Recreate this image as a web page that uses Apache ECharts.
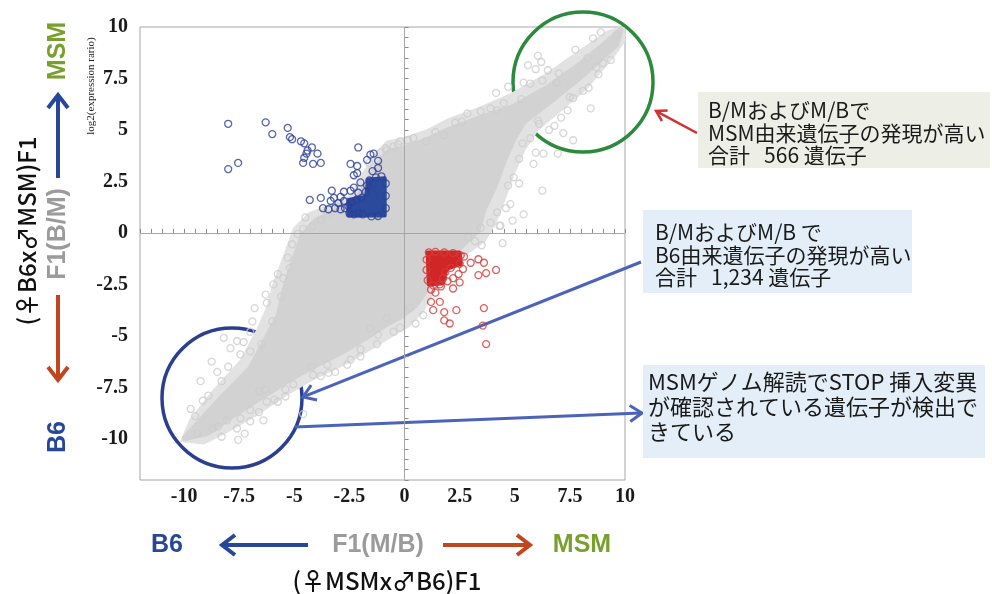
<!DOCTYPE html>
<html>
<head>
<meta charset="utf-8">
<script src="https://cdn.jsdelivr.net/npm/echarts@6/dist/echarts.min.js"></script>
<style>
  html, body { margin: 0; padding: 0; background: #fff; }
  #chart { width: 992px; height: 594px; }
</style>
</head>
<body>
<div id="chart"></div>
<script>
// Axis ticks shown on both axes (log2 expression ratios)
const tickLabels = ['-10', '-7.5', '-5', '-2.5', '0', '2.5', '5', '7.5', '10'];

// Outer, sparser envelope of the grey cloud of all genes (x = M/B, y = B/M)
const grayHalo = [
  [-10.1, -10.1], [-9.7, -9.1], [-8.6, -7.6], [-7.4, -6.2], [-6.7, -4.8], [-6.2, -3.6],
  [-5.9, -2.4], [-5.4, -1.0], [-5.0, 0.2], [-4.3, 0.95], [-3.2, 1.4], [-2.4, 1.8],
  [-1.9, 2.8], [-1.4, 3.7], [-0.8, 4.4], [0, 4.6], [1.0, 4.95], [2.0, 5.5], [3.4, 6.05],
  [4.8, 6.7], [6.3, 7.6], [7.8, 8.7], [9.2, 9.75], [9.9, 10.0], [10.0, 9.4], [9.4, 8.5],
  [8.2, 7.0], [7.0, 5.9], [6.0, 5.0], [5.4, 4.0], [4.9, 2.8], [4.5, 1.6], [4.1, 0.5],
  [3.6, -0.4], [2.8, -1.0], [2.0, -1.6], [1.3, -2.9], [0.8, -3.8], [0.2, -4.5],
  [-0.6, -5.0], [-1.5, -5.6], [-2.8, -6.4], [-4.2, -7.1], [-5.3, -7.8], [-6.7, -8.8],
  [-8.0, -9.6], [-9.1, -10.2]
];

// Dense core of the grey cloud
const grayCore = [
  [-9.95, -9.95], [-9.4, -9.3], [-8.2, -7.9], [-7.0, -6.6], [-6.25, -5.1], [-5.7, -4.0],
  [-5.4, -2.6], [-5.0, -1.3], [-4.6, -0.1], [-4.0, 0.6], [-3.2, 1.0], [-2.4, 1.3],
  [-1.8, 2.2], [-1.2, 3.3], [-0.7, 3.95], [0, 4.1], [1.0, 4.5], [2.0, 5.0], [3.4, 5.55],
  [4.9, 6.1], [6.5, 7.05], [8.0, 8.2], [9.3, 9.35], [9.8, 9.85], [9.6, 9.15], [8.0, 7.6],
  [6.5, 6.3], [5.4, 5.4], [4.95, 4.6], [4.5, 3.5], [4.05, 2.2], [3.6, 1.2], [3.3, 0.1],
  [2.6, -0.6], [2.0, -1.1], [1.4, -1.8], [1.0, -2.7], [0.5, -3.5], [-0.1, -4.0],
  [-0.8, -4.4], [-1.5, -4.9], [-2.9, -5.8], [-4.2, -6.5], [-5.2, -7.1], [-6.7, -8.1],
  [-8.0, -9.0], [-9.0, -9.75]
];

// Scattered grey genes around the edge of the cloud
const grayPoints = [
  [8.9, 9.75], [8.55, 9.45], [7.75, 8.9], [6.05, 8.6], [6.2, 8.3], [5.6, 8.15], [5.95, 7.95],
  [6.5, 7.9], [7.0, 7.75], [5.4, 7.3], [5.7, 7.25], [6.25, 7.4], [9.35, 8.4], [9.0, 8.25],
  [8.7, 8.05], [8.35, 7.05], [8.1, 6.9], [8.45, 6.05], [7.65, 6.55], [7.4, 5.95], [7.1, 5.6],
  [6.8, 5.2], [7.2, 4.85], [7.65, 4.5], [6.55, 5.0], [6.05, 5.45], [5.7, 4.6], [5.35, 4.35],
  [5.95, 3.9], [6.3, 3.85], [6.95, 3.85], [5.85, 3.35], [4.95, 2.7], [5.2, 2.4], [6.25, 2.05],
  [4.8, 1.4], [4.9, 0.6], [5.4, 0.9], [4.6, 1.2], [4.3, 0.35], [4.7, 7.1], [4.15, 6.8],
  [4.5, 6.3], [3.45, 5.9], [2.3, 5.35], [1.8, 4.75], [0.95, 4.45], [0.15, 4.5], [-0.5, 4.2],
  [-0.85, 4.1], [0.4, 4.6], [2.85, 5.8], [3.9, 6.05], [-0.8, 4.0], [-0.3, 4.3],
  [-3.5, 0.9], [-3.8, 0.6], [-4.5, 0.75], [-4.6, 0.2], [-4.85, -0.05], [-5.1, -0.55],
  [-5.3, -1.2], [-5.75, -2.0], [-5.5, -2.2], [-5.95, -2.5], [-6.3, -3.0], [-6.25, -3.4],
  [-6.8, -3.65], [-6.9, -4.3], [-7.0, -4.8], [-7.3, -5.3],
  [-8.75, -6.25], [-9.25, -7.2], [-9.7, -8.55], [-9.15, -8.15], [-8.5, -6.75], [-8.3, -7.2],
  [-8.0, -6.5], [-7.9, -5.6], [-8.2, -5.1], [-7.6, -5.25], [-7.45, -5.9], [-7.0, -5.75],
  [-8.3, -9.9], [-8.45, -9.4], [-8.05, -9.1], [-7.55, -10.05], [-7.25, -9.75], [-7.6, -9.5],
  [-7.45, -9.0], [-7.0, -9.15], [-6.6, -8.7], [-6.4, -9.1], [-7.0, -8.6], [-6.25, -8.2],
  [-5.75, -8.2], [-6.6, -7.7], [-6.3, -7.6], [-5.4, -7.95], [-5.4, -7.6], [-5.05, -7.35],
  [-4.6, -8.8], [-4.15, -6.9], [-3.45, -6.8], [-3.15, -6.75], [-4.2, -6.5], [-2.6, -6.4],
  [-2.45, -6.15], [-1.25, -5.4], [-1.2, -4.95], [-1.55, -4.65], [-0.8, -4.15], [-2.0, -5.65],
  [-3.5, -6.4], [4.35, 0.35], [4.45, -0.5], [3.9, 0.5], [3.45, 0.25], [-0.5, -4.8],
  [-0.2, -4.6], [0.5, -4.4], [0.85, -4.0], [0.25, -3.65], [2.9, -0.2], [3.2, -0.4],
  [-1.6, 3.4], [-1.1, 3.9], [-0.2, 4.45], [1.4, 4.9], [2.6, 5.4], [4.2, 5.95], [5.3, 6.5],
  [6.9, 7.3], [8.3, 8.5], [9.6, 9.6], [8.8, 7.7], [7.5, 6.6], [6.1, 5.3], [5.2, 3.6],
  [4.7, 2.3], [4.2, 1.0], [3.5, -0.6], [-2.0, -6.0], [-3.8, -6.95], [-5.9, -8.1],
  [-8.7, -9.5], [-9.4, -9.75], [-9.5, -8.9], [-8.9, -7.9], [-6.5, -5.4], [-6.0, -4.3],
  [-5.6, -3.1], [-5.2, -1.7], [-4.2, 0.3], [-3.0, 1.25]
];

// Genes with higher MSM-allele expression in B/M and M/B (blue)
const blueCore = [[-2.55, 0.85], [-2.55, 1.6], [-1.75, 1.75], [-1.65, 2.6], [-0.9, 2.65], [-0.9, 0.85]];
const bluePoints = [
  [-8.0, 5.3], [-6.3, 5.37], [-5.3, 5.1], [-6.0, 4.8], [-5.2, 4.65], [-5.1, 4.55], [-4.7, 4.45],
  [-4.55, 4.35], [-4.2, 4.15], [-4.4, 4.0], [-4.45, 3.85], [-4.55, 3.65], [-4.6, 3.4],
  [-3.95, 3.85], [-4.15, 3.35], [-3.8, 3.4], [-8.0, 3.1], [-7.55, 3.4], [-2.1, 4.15],
  [-1.55, 3.8], [-1.4, 3.85], [-1.7, 3.55], [-1.2, 3.5], [-2.45, 3.35], [-2.15, 3.25],
  [-1.2, 3.15], [-2.15, 2.9], [-2.3, 2.8], [-1.45, 3.0], [-2.0, 2.45], [-3.3, 2.05],
  [-2.75, 2.0], [-2.45, 2.05], [-4.3, 1.6], [-3.8, 1.7], [-3.35, 1.55], [-3.2, 1.7],
  [-3.7, 1.2], [-3.45, 1.15], [-3.15, 1.2], [-2.9, 1.15], [-2.7, 1.2], [-3.0, 1.45],
  [-2.75, 1.55], [-2.3, 2.2], [-2.1, 1.95], [-2.9, 1.75],
  [-2.5, 0.95], [-2.3, 0.9], [-2.1, 0.95], [-1.9, 0.9], [-2.55, 1.3], [-2.4, 1.5],
  [-2.2, 1.6], [-1.95, 1.7], [-1.75, 2.0], [-1.7, 2.3], [-1.6, 2.55], [-1.3, 2.7],
  [-1.05, 2.75], [-0.85, 2.4], [-0.85, 1.8], [-0.85, 1.2], [-1.2, 0.82], [-1.5, 0.8]
];

// Genes with higher B6-allele expression in B/M and M/B (red)
const redCore = [[1.05, -0.95], [2.5, -0.95], [2.55, -1.5], [1.9, -1.75], [1.75, -2.45], [1.1, -2.5]];
const redPoints = [
  [2.7, -1.15], [3.0, -1.45], [3.35, -1.28], [3.6, -1.45], [2.65, -1.75], [2.45, -2.0],
  [2.2, -2.2], [2.5, -2.4], [2.2, -2.7], [3.35, -2.05], [3.7, -1.95], [4.15, -1.8],
  [1.2, -2.75], [1.4, -2.9], [1.2, -3.35], [1.6, -3.35], [1.3, -3.75], [1.8, -3.85],
  [2.35, -3.75], [1.8, -4.25], [2.05, -4.4], [3.6, -3.65], [3.55, -4.5], [3.7, -5.4],
  [1.95, -2.35], [1.65, -2.6],
  [1.1, -0.95], [1.4, -0.92], [1.8, -0.95], [2.2, -0.98], [2.55, -1.1], [2.5, -1.5],
  [2.1, -1.7], [1.85, -1.9], [1.75, -2.2], [1.6, -2.5], [1.3, -2.55], [1.05, -2.3],
  [1.0, -1.8], [1.0, -1.3]
];

const chart = echarts.init(document.getElementById('chart'), null, { renderer: 'canvas' });

function polygonSeries(points, color, z, edge) {
  return {
    type: 'custom',
    z: z,
    silent: true,
    clip: true,
    data: [[0, 0]],
    encode: { x: 0, y: 1 },
    renderItem: function (params, api) {
      return {
        type: 'polygon',
        shape: { points: points.map(function (p) { return api.coord(p); }) },
        style: { fill: color, stroke: color, lineWidth: edge, lineJoin: 'round' }
      };
    }
  };
}

function ringSeries(points, color, z) {
  return {
    type: 'scatter',
    z: z,
    silent: true,
    symbol: 'circle',
    symbolSize: 7,
    data: points,
    itemStyle: { color: 'rgba(255,255,255,0)', borderColor: color, borderWidth: 1.3 }
  };
}

// Open-headed arrow drawn as a line plus a chevron
function arrow(x1, y1, x2, y2, color, width, headLen, headHalf) {
  const dx = x2 - x1, dy = y2 - y1;
  const len = Math.sqrt(dx * dx + dy * dy);
  const ux = dx / len, uy = dy / len;
  const nx = -uy, ny = ux;
  const bx = x2 - ux * headLen, by = y2 - uy * headLen;
  return {
    type: 'group',
    children: [
      { type: 'line', shape: { x1: x1, y1: y1, x2: x2 - ux * width * 0.5, y2: y2 - uy * width * 0.5 },
        style: { stroke: color, lineWidth: width, lineCap: 'butt' } },
      { type: 'polyline', shape: { points: [[bx + nx * headHalf, by + ny * headHalf], [x2, y2], [bx - nx * headHalf, by - ny * headHalf]] },
        style: { stroke: color, lineWidth: width, lineJoin: 'miter', fill: 'none' } }
    ]
  };
}

function vText(text, x, y, font, color) {
  return { type: 'text', x: x, y: y, rotation: Math.PI / 2,
    style: { text: text, font: font, fill: color, align: 'center', verticalAlign: 'middle' } };
}

function hText(text, x, y, font, color) {
  return { type: 'text', x: x, y: y,
    style: { text: text, font: font, fill: color, align: 'center', verticalAlign: 'middle' } };
}

function noteBox(x, y, w, h, fill, text, tx, ty, font, lh) {
  return {
    type: 'group',
    children: [
      { type: 'rect', shape: { x: x, y: y, width: w, height: h }, style: { fill: fill } },
      { type: 'text', x: tx, y: ty,
        style: { text: text, font: font, fill: '#1a1a1a', lineHeight: lh, align: 'left', verticalAlign: 'top' } }
    ]
  };
}

const GREEN = '#78a02e', BLUE = '#27479a', GREYTXT = '#9b9b9b', ORANGE = '#c0461e';
const JP = '"Noto Sans CJK JP", "Noto Sans", sans-serif';
const BOLD = 'bold 25px "Liberation Sans", Arial, sans-serif';

function labelFmt(v) {
  const s = String(Math.round(v * 10) / 10);
  return tickLabels.indexOf(s) >= 0 ? s : '';
}

const axisCommon = {
  type: 'value',
  min: -12,
  max: 10,
  interval: 0.5,
  splitLine: { show: false },
  axisLine: { show: false },
  axisTick: { show: true, inside: true, length: 4, lineStyle: { color: '#8a8a8a', width: 1 } },
  axisLabel: {
    formatter: labelFmt,
    fontFamily: '"Liberation Serif", "Times New Roman", serif',
    fontWeight: 'bold',
    fontSize: 20,
    color: '#1a1a1a',
    showMinLabel: true,
    showMaxLabel: true,
    hideOverlap: false
  }
};

chart.setOption({
  animation: false,
  backgroundColor: '#ffffff',
  grid: { left: 140, right: 367, top: 27, bottom: 114, show: true, borderColor: '#a6a6a6', borderWidth: 1 },
  xAxis: Object.assign({}, axisCommon, { axisLabel: Object.assign({}, axisCommon.axisLabel, { margin: 7 }) }),
  yAxis: Object.assign({}, axisCommon, { axisLabel: Object.assign({}, axisCommon.axisLabel, { margin: 12 }) }),
  series: [
    {
      type: 'line', data: [], z: 1, silent: true,
      markLine: {
        silent: true, symbol: 'none', label: { show: false },
        lineStyle: { color: '#a6a6a6', width: 1, type: 'solid' },
        data: [{ xAxis: 0 }, { yAxis: 0 }]
      }
    },
    polygonSeries(grayHalo, '#e2e2e2', 2, 3),
    polygonSeries(grayCore, '#d2d2d2', 2, 6),
    ringSeries(grayPoints, '#cdcdcd', 3),
    polygonSeries(blueCore, '#2b4a9c', 4, 4),
    ringSeries(bluePoints, '#2d3f98', 5),
    polygonSeries(redCore, '#d02626', 4, 4),
    ringSeries(redPoints, '#d63a3a', 5)
  ],
  graphic: [
    // Axis titles
    vText('log2(expression rario)', 91, 86, '11px "Liberation Serif", "Times New Roman", serif', '#222'),
    vText('(♀B6x♂MSM)F1', 27, 231, '500 24px ' + JP, '#111'),
    vText('MSM', 58, 51, BOLD, GREEN),
    arrow(58, 178, 58, 95, BLUE, 4, 13, 10),
    vText('F1(B/M)', 58, 234, BOLD, GREYTXT),
    arrow(58, 295, 58, 380, ORANGE, 4, 13, 10),
    vText('B6', 58, 437, BOLD, BLUE),
    hText('B6', 167, 545, BOLD, BLUE),
    arrow(308, 545, 222, 545, BLUE, 4, 13, 10),
    hText('F1(M/B)', 378, 545, BOLD, GREYTXT),
    arrow(443, 545, 530, 545, ORANGE, 4, 13, 10),
    hText('MSM', 582, 545, BOLD, GREEN),
    hText('(♀MSMx♂B6)F1', 387, 581, '500 24px ' + JP, '#111'),
    // Highlight rings
    { type: 'circle', shape: { cx: 583, cy: 82, r: 70 }, style: { fill: 'none', stroke: '#2c8a3c', lineWidth: 3.5 } },
    { type: 'circle', shape: { cx: 232, cy: 398, r: 70 }, style: { fill: 'none', stroke: '#2a3f90', lineWidth: 3.5 } },
    // Callout arrows
    arrow(697, 133, 656, 111, '#d03232', 2.5, 10, 6),
    arrow(641, 262, 303, 397, '#4b63b8', 3, 12, 8),
    arrow(295, 427, 642, 413, '#4b63b8', 3, 12, 8),
    // Notes
    noteBox(698, 92, 292, 76, '#edefe7', 'B/MおよびM/Bで\nMSM由来遺伝子の発現が高い\n合計   566 遺伝子', 708, 99, '21px ' + JP, 22.5),
    noteBox(643, 210, 269, 83, '#e3eef8', 'B/MおよびM/B で\nB6由来遺伝子の発現が高い\n合計   1,234 遺伝子', 655, 221, '21px ' + JP, 22.5),
    noteBox(643, 365, 342, 93, '#e3eef8', 'MSMゲノム解読でSTOP 挿入変異\nが確認されている遺伝子が検出で\nきている', 648, 369, '22px ' + JP, 25)
  ]
});
</script>
</body>
</html>
